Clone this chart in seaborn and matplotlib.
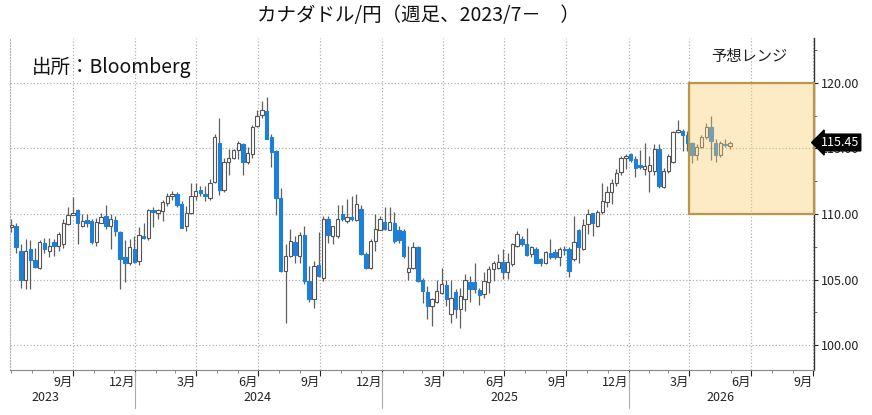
import pandas as pd
import numpy as np
import matplotlib
matplotlib.use("Agg")
import matplotlib.pyplot as plt
import matplotlib.dates as mdates
import matplotlib.transforms as mtransforms
from matplotlib.patches import Rectangle
from matplotlib.ticker import MultipleLocator, FixedLocator
import seaborn as sns

# weekly CAD/JPY candles
opens = [
    109.0, 109.1, 107.2, 105.0, 107.3, 106.5, 105.9, 107.8, 107.2, 107.85,
    107.6, 107.7, 109.25, 109.95, 110.3, 109.05, 109.55, 109.5, 107.9, 109.35,
    109.85, 109.1, 109.55, 108.65, 106.7, 106.3, 107.3, 106.4, 108.35, 108.2,
    110.3, 110.05, 110.25, 110.85, 111.4, 111.5, 110.75, 109.05, 110.05, 111.35,
    111.8, 111.55, 111.2, 112.45, 115.45, 111.8, 113.95, 114.25, 114.85, 115.3,
    114.0, 114.55, 116.7, 117.55, 117.85, 115.9, 114.8, 111.2, 105.65, 106.8,
    107.85, 106.8, 108.4, 104.9, 103.55, 106.15, 105.15, 109.6, 108.35, 108.3,
    110.0, 109.5, 109.8, 109.55, 110.4, 106.95, 105.9, 107.95, 108.8, 109.4,
    108.8, 109.35, 108.8, 108.7, 105.6, 105.9, 107.45, 105.0, 104.05, 103.0,
    103.3, 104.0, 104.6, 102.35, 104.05, 102.8, 103.5, 104.85, 104.85, 104.2,
    103.9, 104.8, 105.8, 105.9, 106.35, 105.6, 106.2, 107.6, 108.1, 107.75,
    106.95, 107.35, 106.55, 106.3, 107.05, 107.1, 106.75, 107.3, 107.3, 106.55,
    108.8, 107.35, 109.25, 110.05, 109.1, 110.15, 110.95, 111.65, 112.35, 113.2,
    114.3, 114.55, 114.2, 113.7, 113.45, 113.25, 113.25, 114.95, 112.05, 113.25,
    114.0, 116.25, 116.35, 116.0, 115.4, 114.5, 115.1, 115.9, 116.6, 115.45,
    114.5, 115.35, 115.15,
]
highs = [
    109.6, 109.3, 107.7, 108.1, 108.0, 107.4, 108.0, 108.2, 108.2, 108.1,
    108.6, 109.6, 110.5, 111.3, 110.4, 110.0, 110.0, 109.6, 109.7, 110.1,
    110.7, 110.0, 109.85, 108.7, 108.0, 108.1, 108.3, 109.0, 109.35, 110.4,
    110.5, 110.4, 111.1, 111.6, 111.75, 111.65, 111.0, 110.6, 112.35, 112.4,
    112.1, 112.1, 112.65, 116.1, 117.35, 114.25, 114.95, 114.95, 115.6, 115.45,
    115.1, 116.75, 117.9, 118.65, 118.9, 116.1, 114.9, 112.0, 107.7, 108.85,
    108.35, 108.6, 109.1, 106.05, 106.45, 108.6, 109.85, 109.85, 109.1, 110.65,
    110.7, 111.15, 111.4, 111.55, 110.7, 107.1, 108.1, 110.0, 109.85, 110.55,
    110.55, 110.15, 109.1, 108.85, 107.55, 107.9, 107.6, 105.1, 104.5, 103.6,
    105.0, 105.85, 105.0, 105.0, 104.25, 104.4, 105.4, 105.3, 106.3, 104.4,
    105.55, 106.05, 106.45, 106.95, 107.3, 107.05, 107.8, 108.7, 108.3, 108.95,
    107.6, 107.5, 106.65, 107.2, 108.1, 107.3, 107.45, 107.6, 107.45, 109.85,
    108.85, 109.6, 110.4, 110.1, 110.3, 112.35, 112.15, 112.65, 113.45, 114.45,
    114.6, 114.65, 114.4, 114.9, 115.4, 114.4, 115.3, 115.3, 113.5, 114.55,
    116.3, 117.2, 116.45, 116.3, 115.5, 115.3, 116.05, 116.95, 117.5, 115.7,
    115.6, 115.7, 115.6,
]
lows = [
    108.6, 107.0, 104.4, 104.3, 104.3, 105.9, 105.8, 107.0, 106.7, 106.8,
    107.2, 107.4, 109.2, 109.9, 107.7, 109.0, 109.0, 107.7, 107.6, 109.3,
    108.85, 107.3, 108.35, 104.3, 104.8, 106.1, 106.3, 106.1, 108.1, 108.0,
    109.0, 109.6, 109.5, 110.6, 111.1, 110.5, 108.9, 108.7, 110.0, 111.1,
    111.4, 111.0, 111.1, 112.4, 111.45, 111.65, 113.0, 114.2, 114.2, 113.0,
    113.8, 114.3, 116.6, 117.3, 115.7, 113.6, 109.95, 105.6, 101.7, 106.75,
    106.3, 106.3, 104.7, 103.3, 102.85, 105.2, 104.9, 107.8, 107.7, 108.2,
    109.5, 109.35, 109.45, 109.5, 106.9, 105.8, 105.8, 107.2, 108.75, 108.75,
    108.75, 107.8, 107.8, 106.65, 105.0, 105.8, 104.8, 103.25, 102.0, 101.45,
    103.2, 103.9, 103.0, 101.7, 102.1, 101.35, 102.6, 103.3, 104.0, 103.05,
    103.6, 104.0, 104.9, 105.8, 105.05, 105.05, 106.05, 107.5, 107.6, 106.8,
    106.7, 106.25, 106.05, 106.2, 106.6, 106.6, 106.05, 106.9, 105.2, 106.45,
    106.3, 107.25, 108.5, 108.3, 109.0, 110.0, 110.5, 110.8, 112.1, 113.0,
    113.4, 114.0, 112.8, 113.4, 113.0, 111.7, 113.0, 112.0, 112.0, 113.1,
    113.9, 116.2, 114.8, 114.8, 113.9, 114.15, 115.0, 115.7, 114.15, 114.0,
    114.35, 115.1, 114.95,
]
closes = [
    109.2, 107.45, 105.0, 107.2, 106.5, 106.0, 107.9, 107.3, 107.6, 107.55,
    108.45, 109.35, 109.9, 110.05, 109.35, 109.5, 109.35, 107.9, 109.4, 109.8,
    109.1, 109.65, 108.7, 106.55, 106.25, 107.45, 106.35, 108.4, 108.2, 110.3,
    110.15, 110.3, 110.95, 111.4, 111.55, 110.7, 108.95, 110.05, 111.4, 111.75,
    111.6, 111.35, 112.4, 115.9, 111.85, 113.95, 114.3, 114.9, 115.45, 113.95,
    114.65, 116.6, 117.5, 117.9, 115.75, 114.75, 111.2, 105.65, 106.8, 107.95,
    106.85, 108.4, 104.9, 103.5, 106.05, 105.3, 109.6, 108.4, 109.05, 109.65,
    109.6, 109.8, 109.6, 110.75, 106.95, 105.9, 107.95, 108.85, 109.6, 108.85,
    109.4, 107.95, 108.05, 106.8, 105.9, 107.45, 104.9, 104.15, 103.0, 103.5,
    104.15, 104.7, 103.55, 103.6, 102.75, 103.75, 105.0, 104.3, 104.25, 103.8,
    104.9, 105.8, 106.3, 106.35, 105.6, 106.35, 107.7, 108.45, 107.75, 106.9,
    107.45, 106.3, 106.3, 107.1, 106.7, 106.7, 107.35, 107.25, 105.65, 107.9,
    107.45, 109.2, 110.0, 109.3, 110.15, 111.0, 111.65, 112.4, 113.15, 114.3,
    114.45, 114.15, 113.5, 113.6, 113.65, 113.75, 114.95, 112.1, 113.3, 114.4,
    116.25, 116.4, 116.05, 115.4, 114.5, 115.1, 115.9, 116.6, 115.55, 114.5,
    115.45, 115.25, 115.45,
]
weeks = pd.date_range("2023-07-02", periods=len(closes), freq="W-SUN")
forecast_start, forecast_end = "2026-04-01", "2026-10-02"
forecast_low, forecast_high = 110.0, 120.0
year_labels = ["2023", "2024", "2025", "2026"]

df = pd.DataFrame({"date": weeks, "open": opens, "high": highs,
                   "low": lows, "close": closes})
df["up"] = df["close"] >= df["open"]

sns.set_style("white")
plt.rcParams["font.family"] = ["Noto Sans CJK JP", "DejaVu Sans"]

fig, ax = plt.subplots(figsize=(8.72, 4.15), dpi=100)
fig.subplots_adjust(left=0.0115, right=0.933, bottom=0.108, top=0.908)

blue = "#1f7fd6"
edge = "#555555"

# wicks
ax.vlines(df["date"], df["low"], df["high"], color="#5f5f5f", lw=0.9, zorder=2)
# bodies
body_bottom = df[["open", "close"]].min(axis=1)
body_height = (df["close"] - df["open"]).abs().clip(lower=0.08)
ax.bar(df["date"], body_height, bottom=body_bottom, width=5.0,
       color=np.where(df["up"], "white", blue),
       edgecolor=np.where(df["up"], edge, blue), linewidth=0.8, zorder=3)

# forecast range box
x0 = mdates.date2num(pd.Timestamp(forecast_start))
x1 = mdates.date2num(pd.Timestamp(forecast_end))
ax.add_patch(Rectangle((x0, forecast_low), x1 - x0, forecast_high - forecast_low,
                       facecolor="#f9cf70", alpha=0.4, edgecolor="none", zorder=4))
ax.add_patch(Rectangle((x0, forecast_low), x1 - x0, forecast_high - forecast_low,
                       facecolor="none", edgecolor="#b8974a", lw=1.6, zorder=5,
                       clip_on=False))
ax.text((x0 + x1) / 2 - 3, 122.0, "予想レンジ", ha="center", va="center",
        fontsize=11, color="#222222")

ax.set_xlim(pd.Timestamp("2023-06-30"), pd.Timestamp(forecast_end))
ax.set_ylim(98.1, 123.4)

# y axis on the right
ax.yaxis.tick_right()
ax.set_yticks([100, 105, 110, 115, 120])
ax.set_yticklabels([f"{v:.2f}" for v in [100, 105, 110, 115, 120]], fontsize=9)
ax.yaxis.set_minor_locator(MultipleLocator(2.5))
ax.tick_params(axis="y", which="major", right=True, direction="out", length=3,
               width=0.8, pad=2, colors="#222222")
ax.tick_params(axis="y", which="minor", right=True, direction="out", length=2,
               width=0.6, colors="#555555")

# x axis: quarter gridlines, label = month that just ended
qticks = pd.date_range("2023-10-01", "2026-10-01", freq="QS-JAN")
ax.set_xticks(qticks)
ax.set_xticklabels([f"{(d.month - 2) % 12 + 1}月" for d in qticks],
                   ha="right", fontsize=9)
shift = mtransforms.ScaledTranslation(-2 / 72, 0, fig.dpi_scale_trans)
for lab in ax.get_xticklabels():
    lab.set_transform(lab.get_transform() + shift)
ax.xaxis.set_minor_locator(FixedLocator(
    mdates.date2num(pd.date_range("2023-07-01", "2026-10-01", freq="MS"))))
ax.tick_params(axis="x", which="major", bottom=True, direction="out", length=4,
               width=0.8, pad=0, colors="#222222")
ax.tick_params(axis="x", which="minor", bottom=True, direction="out", length=2,
               width=0.6, colors="#777777")

ax.grid(True, which="major", color="#b0b0b0", linestyle=":", linewidth=0.9)

ax.spines["top"].set_visible(False)
ax.spines["left"].set_linestyle(":")
ax.spines["left"].set_color("#b0b0b0")
ax.spines["bottom"].set_color("#888888")
ax.spines["right"].set_color("#333333")
ax.spines["right"].set_linewidth(1.0)

# year row under the months
trans = mtransforms.blended_transform_factory(ax.transData, ax.transAxes)
year_pos = ["2023-08-22", "2024-07-01", "2025-07-01", "2026-05-17"]
for lab, pos in zip(year_labels, year_pos):
    ax.text(pd.Timestamp(pos), -0.082, lab, transform=trans, ha="center",
            va="center", fontsize=9, color="#222222")
for yr in ["2024-01-01", "2025-01-01", "2026-01-01"]:
    ax.plot([pd.Timestamp(yr)] * 2, [-0.006, -0.114], transform=trans,
            color="#aaaaaa", lw=0.8, clip_on=False)

# last price tag
ax.annotate(f"{closes[-1]:.2f}", xy=(1.0, closes[-1]),
            xycoords=("axes fraction", "data"), xytext=(5, 0),
            textcoords="offset points", ha="left", va="center",
            fontsize=9, color="white", zorder=10, annotation_clip=False,
            bbox=dict(boxstyle="larrow,pad=0.15", fc="black", ec="black"))

fig.text(0.037, 1 - 67 / 415, "出所：Bloomberg", ha="left", va="center",
         fontsize=14, color="#111111")
fig.suptitle("カナダドル/円（週足、2023/7－　）", x=0.48, y=1 - 16 / 415,
             va="center", fontsize=14, color="#111111")

plt.savefig("out.png", dpi=100)
